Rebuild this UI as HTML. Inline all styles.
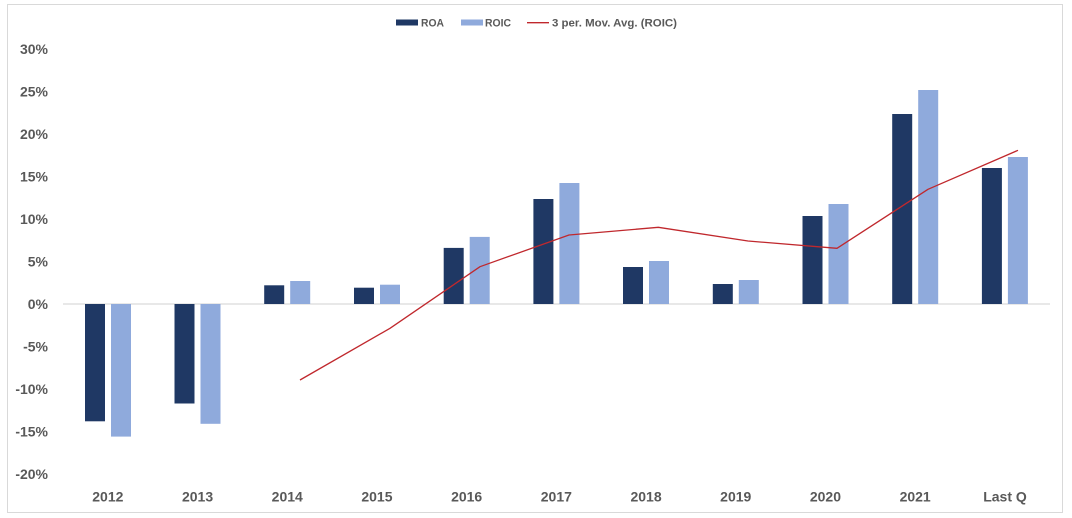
<!DOCTYPE html>
<html><head><meta charset="utf-8"><style>
html,body{margin:0;padding:0;background:#fff;}
svg{display:block;}
text{font-family:"Liberation Sans",Arial,sans-serif;font-weight:bold;fill:#595959;}
</style></head><body>
<svg width="1072" height="518" viewBox="0 0 1072 518" xmlns="http://www.w3.org/2000/svg">
<rect x="0" y="0" width="1072" height="518" fill="#fff"/>
<rect x="7.5" y="4.5" width="1055" height="508" fill="#fff" stroke="#d9d9d9" stroke-width="1"/>
<!-- legend -->
<rect x="396" y="19.5" width="22" height="6" fill="#1f3864"/>
<text x="421" y="26.5" font-size="11" textLength="23" lengthAdjust="spacingAndGlyphs">ROA</text>
<rect x="461" y="19.5" width="22" height="6" fill="#8faadc"/>
<text x="485" y="26.5" font-size="11" textLength="26" lengthAdjust="spacingAndGlyphs">ROIC</text>
<line x1="527" y1="22.7" x2="549" y2="22.7" stroke="#c0282d" stroke-width="1.3"/>
<text x="552" y="26.5" font-size="11" textLength="125" lengthAdjust="spacingAndGlyphs">3 per. Mov. Avg. (ROIC)</text>
<!-- y labels -->
<g font-size="14" text-anchor="end">
<text x="48" y="54">30%</text>
<text x="48" y="96.5">25%</text>
<text x="48" y="139">20%</text>
<text x="48" y="181.5">15%</text>
<text x="48" y="224">10%</text>
<text x="48" y="266.5">5%</text>
<text x="48" y="309">0%</text>
<text x="48" y="351.5">-5%</text>
<text x="48" y="394">-10%</text>
<text x="48" y="436.5">-15%</text>
<text x="48" y="479">-20%</text>
</g>
<!-- zero line -->
<line x1="63" y1="304" x2="1050" y2="304" stroke="#d9d9d9" stroke-width="1.3"/>
<!-- bars ROA -->
<g fill="#1f3864">
<rect x="85" y="304" width="20" height="117.3"/>
<rect x="174.5" y="304" width="20" height="99.5"/>
<rect x="264.2" y="285.3" width="20" height="18.7"/>
<rect x="354" y="287.7" width="20" height="16.3"/>
<rect x="443.7" y="247.9" width="20" height="56.1"/>
<rect x="533.4" y="199" width="20" height="105"/>
<rect x="623" y="267" width="20" height="37"/>
<rect x="712.8" y="284" width="20" height="20"/>
<rect x="802.5" y="216" width="20" height="88"/>
<rect x="892.2" y="114" width="20" height="190"/>
<rect x="981.9" y="168" width="20" height="136"/>
</g>
<!-- bars ROIC -->
<g fill="#8faadc">
<rect x="111" y="304" width="20" height="132.6"/>
<rect x="200.5" y="304" width="20" height="119.8"/>
<rect x="290.2" y="281" width="20" height="23"/>
<rect x="380" y="284.7" width="20" height="19.3"/>
<rect x="469.7" y="236.9" width="20" height="67.1"/>
<rect x="559.4" y="183" width="20" height="121"/>
<rect x="649" y="261" width="20" height="43"/>
<rect x="738.8" y="280" width="20" height="24"/>
<rect x="828.5" y="204" width="20" height="100"/>
<rect x="918.2" y="90" width="20" height="214"/>
<rect x="1007.9" y="157" width="20" height="147"/>
</g>
<!-- moving average -->
<polyline points="300,380 390,328.3 480,266.7 569,235 658.3,227.3 748,241 837,248.3 928,189.3 1018,150.3" fill="none" stroke="#c0282d" stroke-width="1.3" stroke-linejoin="round"/>
<!-- x labels -->
<g font-size="14" text-anchor="middle">
<text x="107.85" y="501.5">2012</text>
<text x="197.55" y="501.5">2013</text>
<text x="287.25" y="501.5">2014</text>
<text x="376.95" y="501.5">2015</text>
<text x="466.65" y="501.5">2016</text>
<text x="556.35" y="501.5">2017</text>
<text x="646.05" y="501.5">2018</text>
<text x="735.75" y="501.5">2019</text>
<text x="825.45" y="501.5">2020</text>
<text x="915.15" y="501.5">2021</text>
<text x="1005" y="501.5">Last Q</text>
</g>
</svg>
</body></html>
